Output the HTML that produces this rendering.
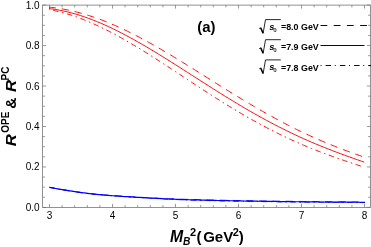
<!DOCTYPE html>
<html><head><meta charset="utf-8"><style>
html,body{margin:0;padding:0;background:#fff;}
body{width:371px;height:247px;overflow:hidden;position:relative;font-family:"Liberation Sans",sans-serif;}
svg{position:absolute;left:0;top:0;will-change:transform;}
text{font-family:"Liberation Sans",sans-serif;}
.t{font-size:10px;fill:#000;}
.r{fill:none;stroke:#f00;stroke-width:1;}
.b{fill:none;stroke:#00f;stroke-width:1.2;}
.lg{font-size:8.9px;font-weight:bold;}
</style></head><body>
<svg width="371" height="247" viewBox="0 0 371 247">
<rect x="42.6" y="5.1" width="327.79999999999995" height="202.3" fill="none" stroke="#777" stroke-width="0.8"/>
<path d="M42.6 207.40h3.5M370.4 207.40h-3.5M42.6 197.28h2.3M370.4 197.28h-2.3M42.6 187.17h2.3M370.4 187.17h-2.3M42.6 177.06h2.3M370.4 177.06h-2.3M42.6 166.94h3.5M370.4 166.94h-3.5M42.6 156.82h2.3M370.4 156.82h-2.3M42.6 146.71h2.3M370.4 146.71h-2.3M42.6 136.59h2.3M370.4 136.59h-2.3M42.6 126.48h3.5M370.4 126.48h-3.5M42.6 116.36h2.3M370.4 116.36h-2.3M42.6 106.25h2.3M370.4 106.25h-2.3M42.6 96.13h2.3M370.4 96.13h-2.3M42.6 86.02h3.5M370.4 86.02h-3.5M42.6 75.91h2.3M370.4 75.91h-2.3M42.6 65.79h2.3M370.4 65.79h-2.3M42.6 55.67h2.3M370.4 55.67h-2.3M42.6 45.56h3.5M370.4 45.56h-3.5M42.6 35.44h2.3M370.4 35.44h-2.3M42.6 25.33h2.3M370.4 25.33h-2.3M42.6 15.21h2.3M370.4 15.21h-2.3M42.6 5.10h3.5M370.4 5.10h-3.5M49.50 207.4v-3.5M49.50 5.1v3.5M62.10 207.4v-2.3M62.10 5.1v2.3M74.70 207.4v-2.3M74.70 5.1v2.3M87.30 207.4v-2.3M87.30 5.1v2.3M99.90 207.4v-2.3M99.90 5.1v2.3M112.50 207.4v-3.5M112.50 5.1v3.5M125.10 207.4v-2.3M125.10 5.1v2.3M137.70 207.4v-2.3M137.70 5.1v2.3M150.30 207.4v-2.3M150.30 5.1v2.3M162.90 207.4v-2.3M162.90 5.1v2.3M175.50 207.4v-3.5M175.50 5.1v3.5M188.10 207.4v-2.3M188.10 5.1v2.3M200.70 207.4v-2.3M200.70 5.1v2.3M213.30 207.4v-2.3M213.30 5.1v2.3M225.90 207.4v-2.3M225.90 5.1v2.3M238.50 207.4v-3.5M238.50 5.1v3.5M251.10 207.4v-2.3M251.10 5.1v2.3M263.70 207.4v-2.3M263.70 5.1v2.3M276.30 207.4v-2.3M276.30 5.1v2.3M288.90 207.4v-2.3M288.90 5.1v2.3M301.50 207.4v-3.5M301.50 5.1v3.5M314.10 207.4v-2.3M314.10 5.1v2.3M326.70 207.4v-2.3M326.70 5.1v2.3M339.30 207.4v-2.3M339.30 5.1v2.3M351.90 207.4v-2.3M351.90 5.1v2.3M364.50 207.4v-3.5M364.50 5.1v3.5" stroke="#6e6e6e" stroke-width="0.7" fill="none"/>
<text x="39.6" y="210.90" text-anchor="end" class="t">0.0</text>
<text x="39.6" y="170.44" text-anchor="end" class="t">0.2</text>
<text x="39.6" y="129.98" text-anchor="end" class="t">0.4</text>
<text x="39.6" y="89.52" text-anchor="end" class="t">0.6</text>
<text x="39.6" y="49.06" text-anchor="end" class="t">0.8</text>
<text x="39.6" y="8.60" text-anchor="end" class="t">1.0</text>
<text x="49.50" y="219.3" text-anchor="middle" class="t">3</text>
<text x="112.50" y="219.3" text-anchor="middle" class="t">4</text>
<text x="175.50" y="219.3" text-anchor="middle" class="t">5</text>
<text x="238.50" y="219.3" text-anchor="middle" class="t">6</text>
<text x="301.50" y="219.3" text-anchor="middle" class="t">7</text>
<text x="364.50" y="219.3" text-anchor="middle" class="t">8</text>
<path d="M49.00 7.18L50.31 7.31L51.62 7.45L52.93 7.60L54.24 7.76L55.55 7.93L56.86 8.11L58.17 8.30L59.48 8.50L60.79 8.71L62.10 8.93L63.41 9.16L64.72 9.40L66.03 9.65L67.33 9.91L68.64 10.18L69.95 10.45L71.26 10.74L72.57 11.04L73.88 11.35L75.19 11.67L76.50 11.99L77.81 12.33L79.12 12.67L80.43 13.03L81.74 13.39L83.05 13.76L84.36 14.14L85.67 14.53L86.98 14.93L88.29 15.34L89.60 15.76L90.91 16.18L92.22 16.62L93.53 17.06L94.84 17.51L96.15 17.97L97.46 18.44L98.77 18.92L100.08 19.40L101.38 19.89L102.69 20.39L104.00 20.90L105.31 21.42L106.62 21.94L107.93 22.47L109.24 23.01L110.55 23.56L111.86 24.11L113.17 24.67L114.48 25.24L115.79 25.81L117.10 26.40L118.41 26.99L119.72 27.58L121.03 28.18L122.34 28.79L123.65 29.41L124.96 30.03L126.27 30.66L127.58 31.30L128.89 31.94L130.20 32.58L131.51 33.24L132.82 33.90L134.13 34.56L135.44 35.23L136.74 35.91L138.05 36.59L139.36 37.28L140.67 37.97L141.98 38.67L143.29 39.37L144.60 40.08L145.91 40.79L147.22 41.51L148.53 42.23L149.84 42.96L151.15 43.69L152.46 44.42L153.77 45.16L155.08 45.91L156.39 46.65L157.70 47.41L159.01 48.16L160.32 48.92L161.63 49.68L162.94 50.45L164.25 51.22L165.56 51.99L166.87 52.77L168.18 53.55L169.49 54.33L170.79 55.12L172.10 55.91L173.41 56.70L174.72 57.49L176.03 58.29L177.34 59.08L178.65 59.88L179.96 60.69L181.27 61.49L182.58 62.30L183.89 63.11L185.20 63.92L186.51 64.73L187.82 65.54L189.13 66.36L190.44 67.17L191.75 67.99L193.06 68.81L194.37 69.63L195.68 70.45L196.99 71.27L198.30 72.09L199.61 72.91L200.92 73.74L202.23 74.56L203.54 75.38L204.85 76.21L206.15 77.03L207.46 77.85L208.77 78.68L210.08 79.50L211.39 80.32L212.70 81.15L214.01 81.97L215.32 82.79L216.63 83.61L217.94 84.43L219.25 85.25L220.56 86.07L221.87 86.89L223.18 87.71L224.49 88.52L225.80 89.34L227.11 90.15L228.42 90.96L229.73 91.77L231.04 92.58L232.35 93.39L233.66 94.19L234.97 94.99L236.28 95.79L237.59 96.59L238.90 97.39L240.21 98.18L241.51 98.98L242.82 99.77L244.13 100.55L245.44 101.34L246.75 102.12L248.06 102.90L249.37 103.68L250.68 104.45L251.99 105.23L253.30 105.99L254.61 106.76L255.92 107.52L257.23 108.28L258.54 109.04L259.85 109.79L261.16 110.54L262.47 111.29L263.78 112.03L265.09 112.77L266.40 113.51L267.71 114.24L269.02 114.97L270.33 115.69L271.64 116.42L272.95 117.13L274.26 117.85L275.56 118.56L276.87 119.27L278.18 119.97L279.49 120.67L280.80 121.36L282.11 122.05L283.42 122.74L284.73 123.42L286.04 124.10L287.35 124.77L288.66 125.44L289.97 126.11L291.28 126.77L292.59 127.43L293.90 128.08L295.21 128.73L296.52 129.38L297.83 130.02L299.14 130.65L300.45 131.28L301.76 131.91L303.07 132.53L304.38 133.15L305.69 133.77L307.00 134.38L308.31 134.98L309.62 135.58L310.92 136.18L312.23 136.77L313.54 137.36L314.85 137.94L316.16 138.52L317.47 139.10L318.78 139.67L320.09 140.24L321.40 140.80L322.71 141.36L324.02 141.91L325.33 142.46L326.64 143.01L327.95 143.55L329.26 144.09L330.57 144.62L331.88 145.15L333.19 145.68L334.50 146.20L335.81 146.72L337.12 147.23L338.43 147.74L339.74 148.25L341.05 148.75L342.36 149.25L343.67 149.75L344.97 150.24L346.28 150.73L347.59 151.22L348.90 151.70L350.21 152.18L351.52 152.66L352.83 153.13L354.14 153.60L355.45 154.07L356.76 154.54L358.07 155.00L359.38 155.46L360.69 155.92L362.00 156.37" class="r" stroke-dasharray="7.3 5.86" stroke-dashoffset="0.3"/>
<path d="M49.00 8.57L50.32 8.73L51.64 8.90L52.96 9.08L54.28 9.28L55.59 9.49L56.91 9.71L58.23 9.94L59.55 10.19L60.87 10.44L62.19 10.71L63.51 10.99L64.83 11.28L66.14 11.59L67.46 11.90L68.78 12.23L70.10 12.56L71.42 12.91L72.74 13.27L74.06 13.63L75.38 14.01L76.70 14.40L78.01 14.80L79.33 15.21L80.65 15.63L81.97 16.06L83.29 16.50L84.61 16.95L85.93 17.41L87.25 17.88L88.56 18.36L89.88 18.85L91.20 19.34L92.52 19.85L93.84 20.36L95.16 20.89L96.48 21.42L97.80 21.96L99.12 22.51L100.43 23.07L101.75 23.64L103.07 24.21L104.39 24.79L105.71 25.38L107.03 25.98L108.35 26.59L109.67 27.20L110.98 27.82L112.30 28.45L113.62 29.09L114.94 29.73L116.26 30.38L117.58 31.04L118.90 31.70L120.22 32.37L121.54 33.04L122.85 33.73L124.17 34.41L125.49 35.11L126.81 35.81L128.13 36.52L129.45 37.23L130.77 37.95L132.09 38.67L133.41 39.40L134.72 40.13L136.04 40.87L137.36 41.61L138.68 42.36L140.00 43.12L141.32 43.87L142.64 44.64L143.96 45.40L145.27 46.17L146.59 46.95L147.91 47.73L149.23 48.51L150.55 49.30L151.87 50.09L153.19 50.88L154.51 51.68L155.83 52.48L157.14 53.28L158.46 54.09L159.78 54.90L161.10 55.71L162.42 56.53L163.74 57.34L165.06 58.16L166.38 58.99L167.69 59.81L169.01 60.64L170.33 61.47L171.65 62.30L172.97 63.13L174.29 63.96L175.61 64.80L176.93 65.63L178.25 66.47L179.56 67.31L180.88 68.15L182.20 68.99L183.52 69.83L184.84 70.68L186.16 71.52L187.48 72.36L188.80 73.21L190.11 74.05L191.43 74.90L192.75 75.74L194.07 76.59L195.39 77.43L196.71 78.28L198.03 79.12L199.35 79.96L200.67 80.81L201.98 81.65L203.30 82.49L204.62 83.33L205.94 84.17L207.26 85.01L208.58 85.85L209.90 86.69L211.22 87.52L212.53 88.36L213.85 89.19L215.17 90.02L216.49 90.85L217.81 91.68L219.13 92.50L220.45 93.33L221.77 94.15L223.09 94.97L224.40 95.79L225.72 96.60L227.04 97.41L228.36 98.23L229.68 99.03L231.00 99.84L232.32 100.64L233.64 101.44L234.95 102.24L236.27 103.04L237.59 103.83L238.91 104.62L240.23 105.40L241.55 106.19L242.87 106.97L244.19 107.74L245.51 108.52L246.82 109.29L248.14 110.05L249.46 110.81L250.78 111.57L252.10 112.33L253.42 113.08L254.74 113.83L256.06 114.58L257.37 115.32L258.69 116.05L260.01 116.79L261.33 117.52L262.65 118.24L263.97 118.97L265.29 119.68L266.61 120.40L267.93 121.11L269.24 121.81L270.56 122.51L271.88 123.21L273.20 123.90L274.52 124.59L275.84 125.28L277.16 125.96L278.48 126.63L279.79 127.30L281.11 127.97L282.43 128.63L283.75 129.29L285.07 129.95L286.39 130.60L287.71 131.24L289.03 131.88L290.35 132.52L291.66 133.15L292.98 133.78L294.30 134.41L295.62 135.02L296.94 135.64L298.26 136.25L299.58 136.86L300.90 137.46L302.22 138.06L303.53 138.65L304.85 139.24L306.17 139.82L307.49 140.40L308.81 140.98L310.13 141.55L311.45 142.12L312.77 142.68L314.08 143.24L315.40 143.80L316.72 144.35L318.04 144.90L319.36 145.44L320.68 145.98L322.00 146.52L323.32 147.05L324.64 147.58L325.95 148.11L327.27 148.63L328.59 149.15L329.91 149.66L331.23 150.17L332.55 150.68L333.87 151.19L335.19 151.69L336.50 152.19L337.82 152.68L339.14 153.18L340.46 153.67L341.78 154.15L343.10 154.64L344.42 155.12L345.74 155.60L347.06 156.08L348.37 156.55L349.69 157.02L351.01 157.50L352.33 157.96L353.65 158.43L354.97 158.90L356.29 159.36L357.61 159.82L358.92 160.28L360.24 160.74L361.56 161.20L362.88 161.66L364.20 162.11" class="r"/>
<path d="M49.00 9.49L50.32 9.73L51.64 9.99L52.96 10.26L54.28 10.54L55.59 10.83L56.91 11.14L58.23 11.46L59.55 11.78L60.87 12.12L62.19 12.47L63.51 12.83L64.83 13.21L66.14 13.59L67.46 13.98L68.78 14.39L70.10 14.81L71.42 15.23L72.74 15.67L74.06 16.11L75.38 16.57L76.70 17.04L78.01 17.52L79.33 18.00L80.65 18.50L81.97 19.01L83.29 19.52L84.61 20.05L85.93 20.58L87.25 21.12L88.56 21.68L89.88 22.24L91.20 22.81L92.52 23.38L93.84 23.97L95.16 24.57L96.48 25.17L97.80 25.78L99.12 26.40L100.43 27.03L101.75 27.67L103.07 28.31L104.39 28.96L105.71 29.62L107.03 30.28L108.35 30.95L109.67 31.63L110.98 32.32L112.30 33.01L113.62 33.71L114.94 34.42L116.26 35.13L117.58 35.85L118.90 36.58L120.22 37.31L121.54 38.04L122.85 38.79L124.17 39.53L125.49 40.29L126.81 41.05L128.13 41.81L129.45 42.58L130.77 43.35L132.09 44.13L133.41 44.92L134.72 45.70L136.04 46.50L137.36 47.29L138.68 48.09L140.00 48.90L141.32 49.71L142.64 50.52L143.96 51.34L145.27 52.16L146.59 52.98L147.91 53.81L149.23 54.64L150.55 55.47L151.87 56.31L153.19 57.15L154.51 57.99L155.83 58.83L157.14 59.68L158.46 60.53L159.78 61.38L161.10 62.23L162.42 63.09L163.74 63.94L165.06 64.80L166.38 65.66L167.69 66.52L169.01 67.39L170.33 68.25L171.65 69.12L172.97 69.98L174.29 70.85L175.61 71.72L176.93 72.59L178.25 73.45L179.56 74.32L180.88 75.19L182.20 76.06L183.52 76.93L184.84 77.80L186.16 78.67L187.48 79.54L188.80 80.41L190.11 81.28L191.43 82.15L192.75 83.01L194.07 83.88L195.39 84.74L196.71 85.61L198.03 86.47L199.35 87.33L200.67 88.19L201.98 89.05L203.30 89.91L204.62 90.77L205.94 91.62L207.26 92.47L208.58 93.32L209.90 94.17L211.22 95.02L212.53 95.86L213.85 96.71L215.17 97.55L216.49 98.38L217.81 99.22L219.13 100.05L220.45 100.88L221.77 101.71L223.09 102.53L224.40 103.35L225.72 104.17L227.04 104.98L228.36 105.80L229.68 106.60L231.00 107.41L232.32 108.21L233.64 109.01L234.95 109.80L236.27 110.59L237.59 111.38L238.91 112.17L240.23 112.95L241.55 113.72L242.87 114.49L244.19 115.26L245.51 116.03L246.82 116.79L248.14 117.54L249.46 118.29L250.78 119.04L252.10 119.79L253.42 120.52L254.74 121.26L256.06 121.99L257.37 122.72L258.69 123.44L260.01 124.15L261.33 124.87L262.65 125.57L263.97 126.28L265.29 126.98L266.61 127.67L267.93 128.36L269.24 129.04L270.56 129.72L271.88 130.40L273.20 131.07L274.52 131.73L275.84 132.39L277.16 133.05L278.48 133.70L279.79 134.35L281.11 134.99L282.43 135.63L283.75 136.26L285.07 136.89L286.39 137.51L287.71 138.12L289.03 138.74L290.35 139.34L291.66 139.95L292.98 140.55L294.30 141.14L295.62 141.73L296.94 142.31L298.26 142.89L299.58 143.47L300.90 144.04L302.22 144.60L303.53 145.16L304.85 145.72L306.17 146.27L307.49 146.82L308.81 147.36L310.13 147.90L311.45 148.44L312.77 148.97L314.08 149.49L315.40 150.01L316.72 150.53L318.04 151.05L319.36 151.56L320.68 152.06L322.00 152.56L323.32 153.06L324.64 153.56L325.95 154.05L327.27 154.54L328.59 155.02L329.91 155.50L331.23 155.98L332.55 156.46L333.87 156.93L335.19 157.40L336.50 157.86L337.82 158.33L339.14 158.79L340.46 159.24L341.78 159.70L343.10 160.15L344.42 160.60L345.74 161.05L347.06 161.50L348.37 161.95L349.69 162.39L351.01 162.83L352.33 163.27L353.65 163.71L354.97 164.15L356.29 164.59L357.61 165.03L358.92 165.46L360.24 165.90L361.56 166.33L362.88 166.77L364.20 167.21" class="r" stroke-dasharray="5.5 3.62 1.5 3.59" stroke-dashoffset="-4.28"/>
<path d="M49.50 187.30L51.08 187.61L52.65 187.91L54.23 188.21L55.80 188.50L57.38 188.78L58.95 189.07L60.53 189.34L62.10 189.61L63.68 189.88L65.25 190.14L66.83 190.39L68.40 190.64L69.98 190.89L71.56 191.13L73.13 191.36L74.71 191.59L76.28 191.82L77.86 192.04L79.43 192.25L81.01 192.46L82.58 192.66L84.16 192.86L85.73 193.05L87.31 193.24L88.88 193.43L90.46 193.61L92.04 193.78L93.61 193.95L95.19 194.11L96.76 194.27L98.34 194.42L99.91 194.57L101.49 194.70L103.06 194.84L104.64 194.97L106.21 195.09L107.79 195.21L109.36 195.33L110.94 195.44L112.52 195.55L114.09 195.66L115.67 195.77L117.24 195.88L118.82 195.99L120.39 196.09L121.97 196.19L123.54 196.29L125.12 196.39L126.69 196.49L128.27 196.58L129.84 196.68L131.42 196.77L132.99 196.86L134.57 196.95L136.15 197.04L137.72 197.13L139.30 197.22L140.87 197.31L142.45 197.39L144.02 197.48L145.60 197.56L147.17 197.65L148.75 197.73L150.32 197.81L151.90 197.89L153.47 197.98L155.05 198.06L156.63 198.14L158.20 198.22L159.78 198.30L161.35 198.38L162.93 198.46L164.50 198.54L166.08 198.62L167.65 198.69L169.23 198.76L170.80 198.83L172.38 198.89L173.95 198.95L175.53 199.01L177.11 199.06L178.68 199.11L180.26 199.16L181.83 199.21L183.41 199.25L184.98 199.30L186.56 199.35L188.13 199.39L189.71 199.44L191.28 199.48L192.86 199.52L194.43 199.56L196.01 199.60L197.59 199.64L199.16 199.68L200.74 199.72L202.31 199.77L203.89 199.81L205.46 199.85L207.04 199.88L208.61 199.92L210.19 199.96L211.76 200.00L213.34 200.04L214.91 200.07L216.49 200.11L218.07 200.14L219.64 200.18L221.22 200.21L222.79 200.24L224.37 200.28L225.94 200.31L227.52 200.34L229.09 200.37L230.67 200.40L232.24 200.43L233.82 200.46L235.39 200.49L236.97 200.52L238.55 200.55L240.12 200.58L241.70 200.61L243.27 200.64L244.85 200.66L246.42 200.69L248.00 200.72L249.57 200.74L251.15 200.77L252.72 200.80L254.30 200.82L255.87 200.85L257.45 200.87L259.03 200.90L260.60 200.92L262.18 200.95L263.75 200.97L265.33 201.00L266.90 201.02L268.48 201.04L270.05 201.06L271.63 201.09L273.20 201.11L274.78 201.13L276.35 201.15L277.93 201.17L279.51 201.19L281.08 201.21L282.66 201.23L284.23 201.25L285.81 201.27L287.38 201.29L288.96 201.31L290.53 201.33L292.11 201.35L293.68 201.37L295.26 201.38L296.83 201.40L298.41 201.42L299.98 201.43L301.56 201.45L303.14 201.47L304.71 201.48L306.29 201.50L307.86 201.51L309.44 201.53L311.01 201.54L312.59 201.56L314.16 201.57L315.74 201.59L317.31 201.60L318.89 201.62L320.46 201.63L322.04 201.65L323.62 201.66L325.19 201.68L326.77 201.69L328.34 201.70L329.92 201.72L331.49 201.73L333.07 201.74L334.64 201.75L336.22 201.77L337.79 201.78L339.37 201.79L340.94 201.80L342.52 201.81L344.10 201.83L345.67 201.84L347.25 201.85L348.82 201.86L350.40 201.87L351.97 201.88L353.55 201.89L355.12 201.90L356.70 201.91L358.27 201.92L359.85 201.92L361.42 201.93L363.00 201.94" class="b" style="stroke-width:0.9" stroke-dasharray="7.3 5.86"/>
<path d="M49.50 187.30L51.09 187.62L52.67 187.93L54.26 188.23L55.84 188.53L57.43 188.83L59.01 189.12L60.60 189.40L62.18 189.68L63.77 189.96L65.35 190.22L66.94 190.49L68.53 190.74L70.11 191.00L71.70 191.25L73.28 191.49L74.87 191.72L76.45 191.96L78.04 192.18L79.62 192.41L81.21 192.62L82.79 192.83L84.38 193.04L85.96 193.24L87.55 193.44L89.14 193.63L90.72 193.81L92.31 194.00L93.89 194.17L95.48 194.34L97.06 194.51L98.65 194.66L100.23 194.81L101.82 194.96L103.40 195.10L104.99 195.23L106.58 195.36L108.16 195.49L109.75 195.62L111.33 195.74L112.92 195.86L114.50 195.97L116.09 196.09L117.67 196.20L119.26 196.32L120.84 196.43L122.43 196.54L124.02 196.64L125.60 196.75L127.19 196.85L128.77 196.96L130.36 197.06L131.94 197.16L133.53 197.26L135.11 197.36L136.70 197.45L138.28 197.55L139.87 197.64L141.45 197.74L143.04 197.83L144.63 197.92L146.21 198.01L147.80 198.11L149.38 198.20L150.97 198.29L152.55 198.37L154.14 198.46L155.72 198.55L157.31 198.64L158.89 198.73L160.48 198.82L162.07 198.91L163.65 198.99L165.24 199.08L166.82 199.16L168.41 199.24L169.99 199.32L171.58 199.39L173.16 199.46L174.75 199.52L176.33 199.58L177.92 199.64L179.51 199.70L181.09 199.75L182.68 199.81L184.26 199.86L185.85 199.92L187.43 199.97L189.02 200.02L190.60 200.07L192.19 200.12L193.77 200.17L195.36 200.22L196.94 200.27L198.53 200.31L200.12 200.36L201.70 200.40L203.29 200.44L204.87 200.48L206.46 200.52L208.04 200.56L209.63 200.60L211.21 200.64L212.80 200.67L214.38 200.71L215.97 200.75L217.56 200.78L219.14 200.82L220.73 200.85L222.31 200.88L223.90 200.92L225.48 200.95L227.07 200.98L228.65 201.01L230.24 201.04L231.82 201.07L233.41 201.11L234.99 201.14L236.58 201.16L238.17 201.19L239.75 201.22L241.34 201.25L242.92 201.28L244.51 201.31L246.09 201.34L247.68 201.36L249.26 201.39L250.85 201.42L252.43 201.44L254.02 201.47L255.61 201.49L257.19 201.52L258.78 201.55L260.36 201.57L261.95 201.59L263.53 201.62L265.12 201.64L266.70 201.67L268.29 201.69L269.87 201.71L271.46 201.73L273.05 201.76L274.63 201.78L276.22 201.80L277.80 201.82L279.39 201.84L280.97 201.86L282.56 201.88L284.14 201.90L285.73 201.92L287.31 201.94L288.90 201.96L290.48 201.98L292.07 202.00L293.66 202.02L295.24 202.03L296.83 202.05L298.41 202.07L300.00 202.08L301.58 202.10L303.17 202.12L304.75 202.13L306.34 202.15L307.92 202.16L309.51 202.18L311.10 202.20L312.68 202.21L314.27 202.23L315.85 202.24L317.44 202.26L319.02 202.27L320.61 202.28L322.19 202.30L323.78 202.31L325.36 202.33L326.95 202.34L328.54 202.35L330.12 202.37L331.71 202.38L333.29 202.39L334.88 202.41L336.46 202.42L338.05 202.43L339.63 202.44L341.22 202.46L342.80 202.47L344.39 202.48L345.97 202.49L347.56 202.50L349.15 202.51L350.73 202.52L352.32 202.53L353.90 202.54L355.49 202.55L357.07 202.56L358.66 202.57L360.24 202.58L361.83 202.58L363.41 202.59L365.00 202.60" class="b" style="stroke-width:0.9" stroke-dasharray="5.5 3.62 1.5 3.59"/>
<path d="M49.50 187.30L51.09 187.61L52.67 187.92L54.26 188.22L55.84 188.52L57.43 188.81L59.01 189.10L60.60 189.38L62.18 189.66L63.77 189.93L65.35 190.19L66.94 190.45L68.53 190.71L70.11 190.96L71.70 191.20L73.28 191.44L74.87 191.67L76.45 191.90L78.04 192.13L79.62 192.35L81.21 192.56L82.79 192.77L84.38 192.97L85.96 193.17L87.55 193.36L89.14 193.55L90.72 193.73L92.31 193.91L93.89 194.08L95.48 194.25L97.06 194.41L98.65 194.56L100.23 194.71L101.82 194.85L103.40 194.99L104.99 195.12L106.58 195.25L108.16 195.37L109.75 195.50L111.33 195.61L112.92 195.73L114.50 195.84L116.09 195.96L117.67 196.07L119.26 196.18L120.84 196.28L122.43 196.39L124.02 196.49L125.60 196.60L127.19 196.70L128.77 196.80L130.36 196.90L131.94 196.99L133.53 197.09L135.11 197.19L136.70 197.28L138.28 197.37L139.87 197.46L141.45 197.55L143.04 197.64L144.63 197.73L146.21 197.82L147.80 197.91L149.38 198.00L150.97 198.08L152.55 198.17L154.14 198.25L155.72 198.34L157.31 198.42L158.89 198.51L160.48 198.60L162.07 198.68L163.65 198.76L165.24 198.85L166.82 198.93L168.41 199.00L169.99 199.08L171.58 199.15L173.16 199.21L174.75 199.27L176.33 199.33L177.92 199.38L179.51 199.44L181.09 199.49L182.68 199.54L184.26 199.59L185.85 199.64L187.43 199.69L189.02 199.74L190.60 199.79L192.19 199.84L193.77 199.88L195.36 199.93L196.94 199.97L198.53 200.01L200.12 200.06L201.70 200.10L203.29 200.14L204.87 200.18L206.46 200.22L208.04 200.26L209.63 200.30L211.21 200.34L212.80 200.37L214.38 200.41L215.97 200.45L217.56 200.48L219.14 200.52L220.73 200.55L222.31 200.58L223.90 200.62L225.48 200.65L227.07 200.68L228.65 200.71L230.24 200.74L231.82 200.77L233.41 200.81L234.99 200.84L236.58 200.86L238.17 200.89L239.75 200.92L241.34 200.95L242.92 200.98L244.51 201.01L246.09 201.04L247.68 201.06L249.26 201.09L250.85 201.12L252.43 201.14L254.02 201.17L255.61 201.19L257.19 201.22L258.78 201.25L260.36 201.27L261.95 201.29L263.53 201.32L265.12 201.34L266.70 201.37L268.29 201.39L269.87 201.41L271.46 201.43L273.05 201.46L274.63 201.48L276.22 201.50L277.80 201.52L279.39 201.54L280.97 201.56L282.56 201.58L284.14 201.60L285.73 201.62L287.31 201.64L288.90 201.66L290.48 201.68L292.07 201.70L293.66 201.72L295.24 201.73L296.83 201.75L298.41 201.77L300.00 201.78L301.58 201.80L303.17 201.82L304.75 201.83L306.34 201.85L307.92 201.86L309.51 201.88L311.10 201.90L312.68 201.91L314.27 201.93L315.85 201.94L317.44 201.96L319.02 201.97L320.61 201.98L322.19 202.00L323.78 202.01L325.36 202.03L326.95 202.04L328.54 202.05L330.12 202.07L331.71 202.08L333.29 202.09L334.88 202.11L336.46 202.12L338.05 202.13L339.63 202.14L341.22 202.16L342.80 202.17L344.39 202.18L345.97 202.19L347.56 202.20L349.15 202.21L350.73 202.22L352.32 202.23L353.90 202.24L355.49 202.25L357.07 202.26L358.66 202.27L360.24 202.28L361.83 202.28L363.41 202.29L365.00 202.30" class="b"/>
<text x="197.3" y="31.6" font-size="14.9" font-weight="bold">(a)</text>
<!-- legend -->
<g id="lg">
<path d="M259.2 28.60L260.8 27.70M263.1 33.40L265.5 19.60H280.8" fill="none" stroke="#000" stroke-width="0.85"/>
<path d="M260.7 27.70L263.1 33.20" fill="none" stroke="#000" stroke-width="1.6"/>
<text x="269.2" y="30.00" font-size="9.2" font-weight="bold" font-style="italic">s</text>
<text x="273.3" y="32.00" font-size="6.2" font-weight="bold" fill="#333">0</text>
<text x="281.0" y="30.30" class="lg">=8.0 GeV</text>
<path d="M320.5 25.5H371" stroke="#000" stroke-width="0.95" fill="none" stroke-dasharray="6.8 6.4"/>
<path d="M259.2 48.70L260.8 47.80M263.1 53.50L265.5 39.70H280.8" fill="none" stroke="#000" stroke-width="0.85"/>
<path d="M260.7 47.80L263.1 53.30" fill="none" stroke="#000" stroke-width="1.6"/>
<text x="269.2" y="50.10" font-size="9.2" font-weight="bold" font-style="italic">s</text>
<text x="273.3" y="52.10" font-size="6.2" font-weight="bold" fill="#333">0</text>
<text x="281.0" y="50.40" class="lg">=7.9 GeV</text>
<path d="M320.5 45.5H364.5" stroke="#000" stroke-width="0.95" fill="none"/>
<path d="M259.2 68.90L260.8 68.00M263.1 73.70L265.5 59.90H280.8" fill="none" stroke="#000" stroke-width="0.85"/>
<path d="M260.7 68.00L263.1 73.50" fill="none" stroke="#000" stroke-width="1.6"/>
<text x="269.2" y="70.30" font-size="9.2" font-weight="bold" font-style="italic">s</text>
<text x="273.3" y="72.30" font-size="6.2" font-weight="bold" fill="#333">0</text>
<text x="281.0" y="70.60" class="lg">=7.8 GeV</text>
<path d="M320.5 65.5H371" stroke="#000" stroke-width="0.95" fill="none" stroke-dasharray="1 4.1 5.5 3.65"/>
</g>
<!-- x label -->
<g font-weight="bold">
<text x="169.9" y="242.4" font-size="15.8" font-style="italic">M</text>
<text x="183.0" y="244.6" font-size="10.2" font-style="italic">B</text>
<text x="190.1" y="236.1" font-size="11">2</text>
<text x="196.45" y="242.3" font-size="15">(</text>
<text x="203.2" y="242.3" font-size="15">GeV</text>
<text x="232.8" y="236.1" font-size="11">2</text>
<text x="238.7" y="242.3" font-size="15">)</text>
</g>
<!-- y label -->
<g transform="translate(15.7,146.3) rotate(-90)" font-weight="bold">
<text transform="translate(0,0) scale(1.08,1)" font-size="15.4" font-style="italic">R</text>
<text transform="translate(13.6,-6.7) scale(1,1.1)" font-size="10">OPE</text>
<text x="37.6" y="0" font-size="15.4">&amp;</text>
<text transform="translate(54.2,0) scale(1.08,1)" font-size="15.4" font-style="italic">R</text>
<text transform="translate(65.9,-6.7) scale(1,1.1)" font-size="10">PC</text>
</g>
</svg>
</body></html>
